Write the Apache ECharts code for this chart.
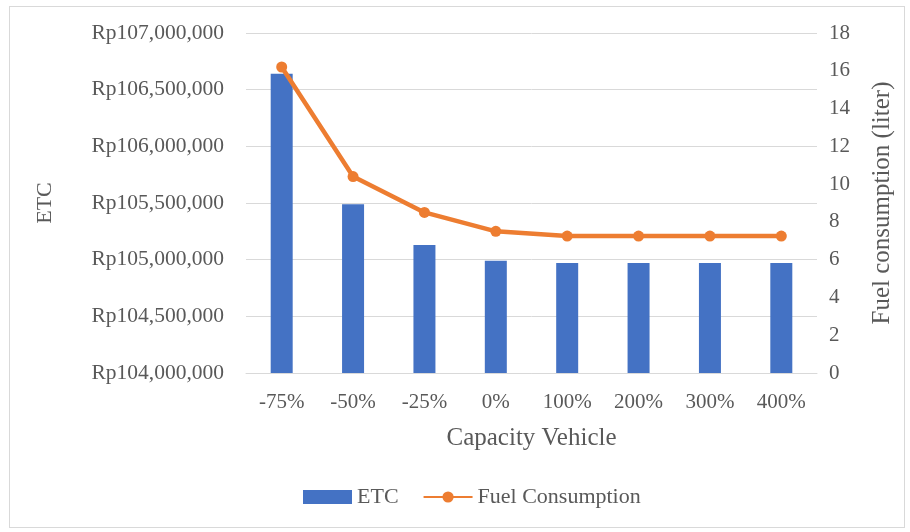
<!DOCTYPE html>
<html><head><meta charset="utf-8">
<script src="https://cdn.jsdelivr.net/npm/echarts@6/dist/echarts.min.js"></script>
<style>html,body{margin:0;padding:0;background:#fff;}
#frame{position:absolute;left:9px;top:6px;width:896px;height:522px;border:1px solid #d9d9d9;box-sizing:border-box;}
#c{position:absolute;left:0;top:0;width:910px;height:532px;}</style>
</head><body><div id="frame"></div><div id="c"></div>
<script>
const categories = ['-75%','-50%','-25%','0%','100%','200%','300%','400%'];
const etcValues = [106640000,105490000,105130000,104990000,104970000,104970000,104970000,104970000];
const fuelValues = [16.2,10.4,8.5,7.5,7.25,7.25,7.25,7.25];
const chart = echarts.init(document.getElementById('c'));
const font = '"Liberation Serif", "Times New Roman", serif';
const gray = '#595959';
chart.setOption({
  animation:false,
  textStyle:{fontFamily:font},
  grid:{left:246,right:93,top:33,bottom:159},
  legend:{bottom:19,left:298,itemGap:24,textStyle:{fontFamily:font,fontSize:22,color:gray},
    data:[{name:'ETC',icon:'rect'},{name:'Fuel Consumption'}],itemWidth:49,itemHeight:14},
  xAxis:{type:'category',data:categories,name:'Capacity Vehicle',nameLocation:'middle',nameGap:53,
    nameTextStyle:{fontFamily:font,fontSize:25,color:gray},
    axisLine:{lineStyle:{color:'#d9d9d9'}},axisTick:{show:false},
    axisLabel:{fontFamily:font,fontSize:21,color:gray,margin:19}},
  yAxis:[{type:'value',min:104000000,max:107000000,interval:500000,name:'ETC',nameLocation:'middle',nameGap:190,
    nameTextStyle:{fontFamily:font,fontSize:22,color:gray},
    axisLabel:{fontFamily:font,fontSize:21.5,color:gray,margin:22,formatter:v=>'Rp'+v.toLocaleString('en-US')},
    splitLine:{lineStyle:{color:'#d9d9d9'}},axisLine:{show:false},axisTick:{show:false}},
   {type:'value',min:0,max:18,interval:2,name:'Fuel consumption (liter)',nameLocation:'middle',nameGap:53,
    nameTextStyle:{fontFamily:font,fontSize:25,color:gray},
    axisLabel:{fontFamily:font,fontSize:21,color:gray,margin:12},
    splitLine:{show:false},axisLine:{show:false},axisTick:{show:false}}],
  series:[{name:'ETC',type:'bar',data:etcValues,barWidth:22,itemStyle:{color:'#4472C4'}},
    {name:'Fuel Consumption',type:'line',yAxisIndex:1,data:fuelValues,symbol:'circle',symbolSize:11,
     lineStyle:{color:'#ED7D31',width:4.5},itemStyle:{color:'#ED7D31'}}]
});
</script></body></html>
